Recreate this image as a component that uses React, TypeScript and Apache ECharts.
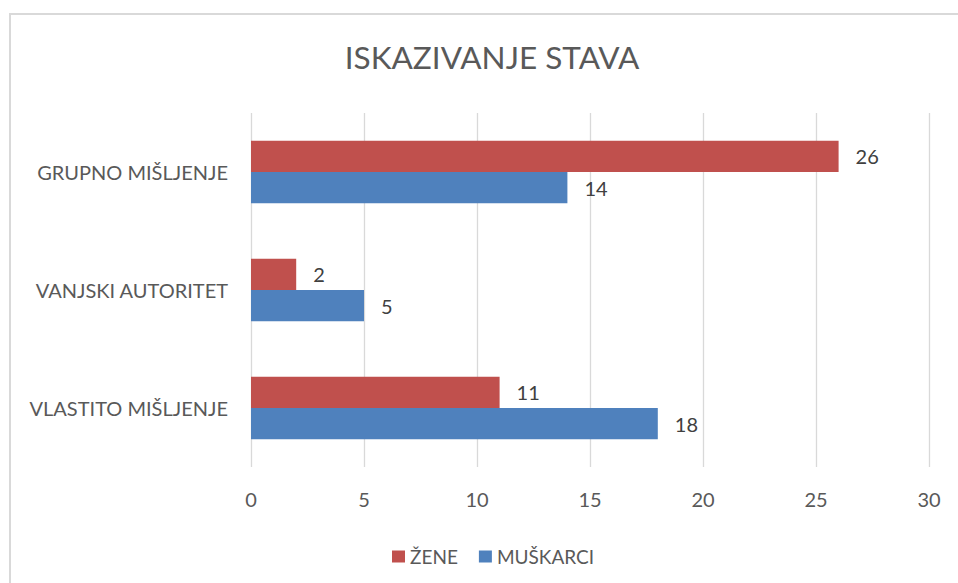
import React, { useEffect, useRef } from "react";
import * as echarts from "echarts";

const title = "ISKAZIVANJE STAVA";
const categories = ["VLASTITO MIŠLJENJE", "VANJSKI AUTORITET", "GRUPNO MIŠLJENJE"];
const seriesNames = ["ŽENE", "MUŠKARCI"];
const zeneValues = [11, 2, 26];
const muskarciValues = [18, 5, 14];
const xTicks = { min: 0, max: 30, interval: 5 };

const FONT = "Lato, 'Open Sans', sans-serif";
const TEXT = "#595959";

export default function App() {
  const ref = useRef<HTMLDivElement>(null);
  useEffect(() => {
    if (!ref.current) return;
    const chart = echarts.init(ref.current, undefined, { renderer: "svg" });
    const label = {
      show: true,
      position: "right",
      distance: 17,
      color: "#404040",
      fontSize: 20,
      fontFamily: FONT,
    };
    chart.setOption({
      animation: false,
      backgroundColor: "#ffffff",
      textStyle: { fontFamily: FONT },
      title: {
        text: title,
        left: 487,
        textAlign: "center",
        top: 36,
        textStyle: { color: TEXT, fontSize: 31.5, fontWeight: "normal", fontFamily: FONT },
      },
      graphic: [
        {
          type: "rect",
          shape: { x: 10, y: 14, width: 1000, height: 700 },
          style: { fill: "none", stroke: "#d9d9d9", lineWidth: 2 },
          silent: true,
          z: -1,
        },
      ],
      legend: {
        data: seriesNames,
        left: 387,
        top: 542,
        icon: "rect",
        itemWidth: 13,
        itemHeight: 12,
        itemGap: 21,
        textStyle: { color: TEXT, fontSize: 19, fontFamily: FONT },
      },
      grid: { left: 251, right: 29, top: 113, bottom: 116, containLabel: false },
      xAxis: {
        type: "value",
        min: xTicks.min,
        max: xTicks.max,
        interval: xTicks.interval,
        axisLine: { show: false },
        axisTick: { show: false },
        splitLine: { show: true, lineStyle: { color: "#d9d9d9", width: 1.3 } },
        axisLabel: { color: TEXT, fontSize: 20, margin: 22, fontFamily: FONT },
      },
      yAxis: {
        type: "category",
        data: categories,
        axisLine: { show: false },
        axisTick: { show: false },
        axisLabel: { color: TEXT, fontSize: 20, margin: 23, fontFamily: FONT },
      },
      series: [
        {
          name: seriesNames[0],
          type: "bar",
          data: zeneValues,
          itemStyle: { color: "#C0504D" },
          barGap: "0%",
          barCategoryGap: "47%",
          label,
        },
        {
          name: seriesNames[1],
          type: "bar",
          data: muskarciValues,
          itemStyle: { color: "#4F81BD" },
          barGap: "0%",
          barCategoryGap: "47%",
          label,
        },
      ],
    });
    return () => chart.dispose();
  }, []);
  return (
    <div
      ref={ref}
      style={{ position: "fixed", left: 0, top: 0, width: 958, height: 583 }}
    />
  );
}
